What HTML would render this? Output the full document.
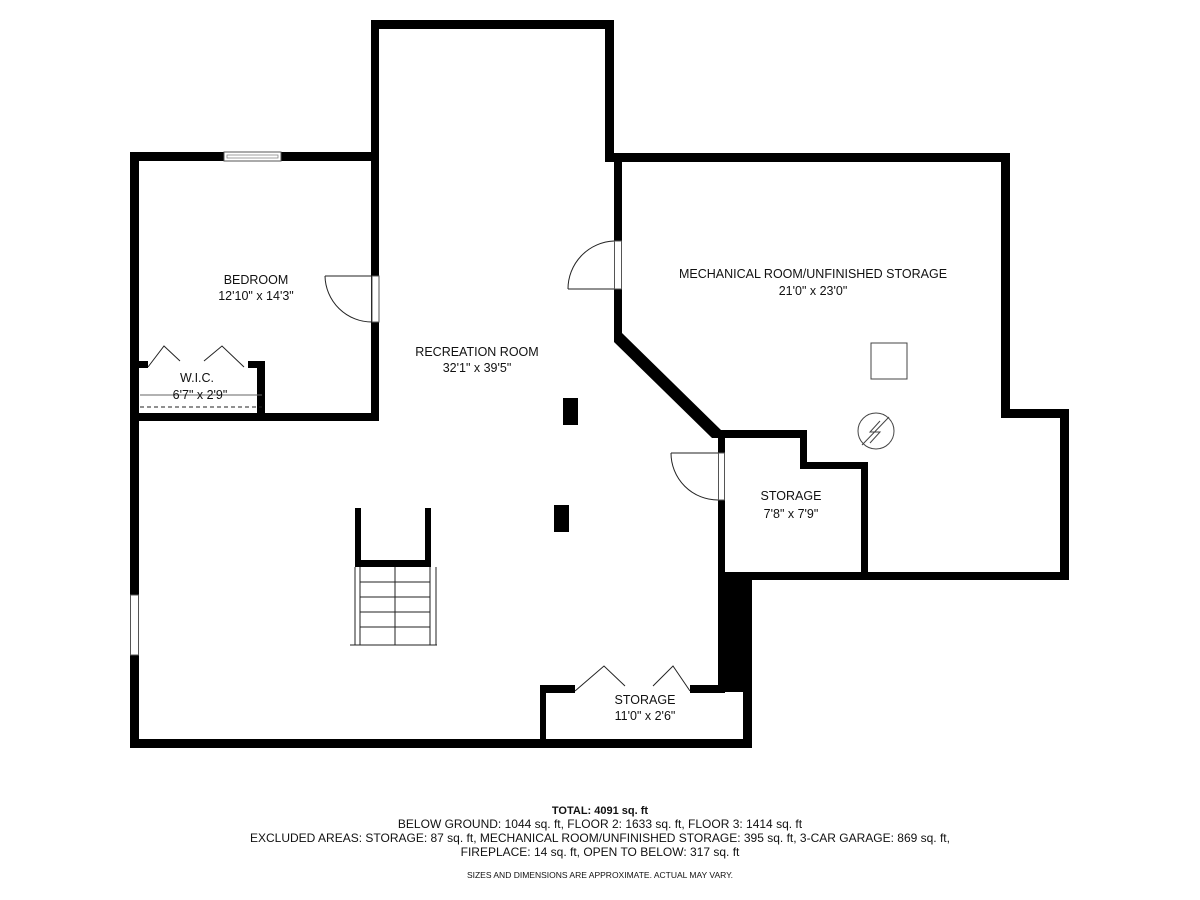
<!DOCTYPE html>
<html><head><meta charset="utf-8"><style>
html,body{margin:0;padding:0;background:#fff;}
svg{display:block;}
text{font-family:"Liberation Sans",sans-serif;fill:#111;}
</style></head><body>
<svg width="1200" height="900" viewBox="0 0 1200 900" xmlns="http://www.w3.org/2000/svg">
<g fill="#000">
<rect x="371" y="20" width="243" height="9"/>
<rect x="371" y="20" width="8" height="401"/>
<rect x="605" y="20" width="9" height="142"/>
<rect x="130" y="152" width="249" height="9"/>
<rect x="130" y="152" width="9" height="596"/>
<rect x="130" y="413" width="249" height="8"/>
<rect x="138" y="361" width="10" height="7"/>
<rect x="248" y="361" width="17" height="7"/>
<rect x="257" y="361" width="8" height="60"/>
<rect x="130" y="739" width="622" height="9"/>
<rect x="540" y="685" width="35" height="8"/>
<rect x="690" y="685" width="35" height="8"/>
<rect x="540" y="685" width="6" height="63"/>
<rect x="743" y="576" width="9" height="172"/>
<rect x="718" y="575" width="34" height="117"/>
<rect x="605" y="153" width="405" height="9"/>
<rect x="1001" y="153" width="9" height="265"/>
<rect x="1001" y="409" width="68" height="9"/>
<rect x="1060" y="409" width="9" height="171"/>
<rect x="718" y="572" width="351" height="8"/>
<rect x="614" y="153" width="8" height="185"/>
<polygon points="614,333 622,333 722,431 718,438 712,438 614,342"/>
<rect x="718" y="430" width="89" height="8"/>
<rect x="800" y="430" width="7" height="39"/>
<rect x="800" y="462" width="68" height="7"/>
<rect x="861" y="462" width="7" height="118"/>
<rect x="718" y="430" width="7" height="150"/>
<rect x="355" y="508" width="6" height="59"/>
<rect x="425" y="508" width="6" height="59"/>
<rect x="355" y="560" width="76" height="7"/>
<rect x="563" y="398" width="15" height="27"/>
<rect x="554" y="505" width="15" height="27"/>
</g>
<g fill="#fff" stroke="#555" stroke-width="1">
<rect x="224" y="152" width="57" height="9"/>
<rect x="130.5" y="595" width="8" height="60"/>
<rect x="372" y="276" width="7" height="46"/>
<rect x="614.5" y="241" width="7" height="48"/>
<rect x="718.5" y="453" width="6" height="47"/>
</g>
<rect x="227" y="155" width="51" height="3" fill="none" stroke="#888" stroke-width="0.8"/>
<g fill="none" stroke="#222" stroke-width="1">
<path d="M325,276 L372,276 M372,322 A47,47 0 0 1 325,276"/>
<path d="M568,289 L614,289 M614,241 A48,48 0 0 0 568,289"/>
<path d="M671,453 L718,453 M718,500 A47,47 0 0 1 671,453"/>
<path d="M148,367 L164,346 L180,361 M204,361 L222,346 L244,367"/>
<path d="M575,691 L604,666 L625,686 M653,686 L673,666 L690,691"/>
<path d="M140,407 L262,407" stroke-dasharray="4,3"/>
<line x1="140" y1="395" x2="262" y2="395" stroke="#666"/>
<path d="M360,567 L360,645 M430,567 L430,645 M395,567 L395,645 M355,567 L355,645 M436,567 L436,645"/>
<path d="M360,582 L430,582 M360,597 L430,597 M360,612 L430,612 M360,627 L430,627 M350,645 L437,645"/>
<rect x="871" y="343" width="36" height="36" stroke="#444"/>
<circle cx="876" cy="431" r="18" stroke="#444"/>
<path d="M862,445 L889,417 M880,421 L870,432 L880,432 L870,443" stroke="#444"/>
</g>
<g font-size="12.5" text-anchor="middle">
<text x="256" y="284">BEDROOM</text>
<text x="256" y="300">12'10" x 14'3"</text>
<text x="197" y="382">W.I.C.</text>
<text x="200" y="399">6'7" x 2'9"</text>
<text x="477" y="356">RECREATION ROOM</text>
<text x="477" y="372">32'1" x 39'5"</text>
<text x="813" y="278">MECHANICAL ROOM/UNFINISHED STORAGE</text>
<text x="813" y="295">21'0" x 23'0"</text>
<text x="791" y="500">STORAGE</text>
<text x="791" y="518">7'8" x 7'9"</text>
<text x="645" y="704">STORAGE</text>
<text x="645" y="720">11'0" x 2'6"</text>
</g>
<g font-size="12" text-anchor="middle">
<text x="600" y="814" font-weight="bold" font-size="11">TOTAL: 4091 sq. ft</text>
<text x="600" y="828">BELOW GROUND: 1044 sq. ft, FLOOR 2: 1633 sq. ft, FLOOR 3: 1414 sq. ft</text>
<text x="600" y="842">EXCLUDED AREAS: STORAGE: 87 sq. ft, MECHANICAL ROOM/UNFINISHED STORAGE: 395 sq. ft, 3-CAR GARAGE: 869 sq. ft,</text>
<text x="600" y="856">FIREPLACE: 14 sq. ft, OPEN TO BELOW: 317 sq. ft</text>
<text x="600" y="878" font-size="8.5">SIZES AND DIMENSIONS ARE APPROXIMATE. ACTUAL MAY VARY.</text>
</g>
</svg>
</body></html>
